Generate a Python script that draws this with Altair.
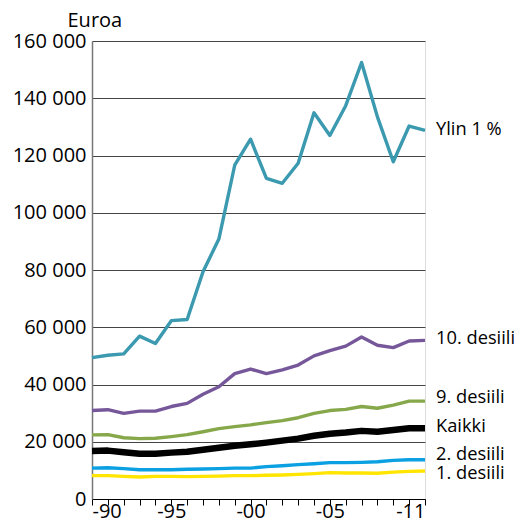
import altair as alt
import pandas as pd

years = list(range(1990, 2012))

top1 = [49400, 50200, 50700, 56900, 54300, 62300, 62700, 79400, 90800, 116600, 125700,
        112000, 110300, 117300, 134900, 127000, 137400, 152500, 133500, 117800, 130300, 128800]
d10 = [30900, 31200, 29900, 30700, 30700, 32300, 33400, 36600, 39200, 43800, 45400,
       43800, 45100, 46800, 50000, 51800, 53400, 56600, 53700, 52900, 55200, 55400]
d9 = [22400, 22500, 21400, 21100, 21200, 21800, 22500, 23500, 24600, 25300, 25900,
      26700, 27400, 28400, 29900, 30900, 31300, 32300, 31700, 32800, 34200, 34200]
kaikki = [16800, 16900, 16300, 15800, 15800, 16200, 16500, 17200, 17900, 18600, 19100,
          19700, 20400, 21100, 22100, 22800, 23200, 23800, 23500, 24100, 24700, 24700]
d2 = [10800, 10900, 10600, 10200, 10200, 10200, 10400, 10500, 10600, 10800, 10800,
      11300, 11600, 12000, 12300, 12700, 12700, 12800, 13000, 13500, 13700, 13700]
d1 = [8150, 8150, 7900, 7700, 7900, 7900, 7800, 7900, 8000, 8150, 8150,
      8300, 8400, 8600, 8850, 9200, 9100, 9100, 9000, 9400, 9650, 9800]

series_names = ["Ylin 1 %", "10. desiili", "9. desiili", "Kaikki", "2. desiili", "1. desiili"]
series_values = [top1, d10, d9, kaikki, d2, d1]
series_colors = ["#3b99b0", "#76589a", "#86a84a", "#000000", "#0aa0e2", "#ffe500"]
series_widths = [3.4, 3.4, 3.4, 6.5, 3.4, 3.4]
label_values = [128900, 55900, 35300, 25150, 15400, 8700]

x_label_years = [1990, 1995, 2000, 2005, 2011]
y_ticks = [0, 20000, 40000, 60000, 80000, 100000, 120000, 140000, 160000]

FONT = "Open Sans"
FS = 20
LFS = 18.3

xscale = alt.Scale(domain=[1990, 2011], nice=False, zero=False)
yscale = alt.Scale(domain=[0, 160000], nice=False)

x_cond = " || ".join("datum.value == %d" % v for v in x_label_years)
x_expr = "(" + x_cond + ") ? '-' + slice(toString(datum.value), 2) : ''"

x_axis = alt.Axis(values=years, format="d", labelExpr=x_expr, grid=False, title=None,
                  tickSize=6, tickColor="#000",
                  domainColor="#000",
                  labelFontSize=FS, labelFont=FONT, labelColor="#000",
                  labelPadding=-4, labelOverlap=False)
y_axis = alt.Axis(values=y_ticks, labelExpr="replace(format(datum.value, ','), ',', ' ')",
                  grid=True, gridColor="#444", gridOpacity=1,
                  ticks=False, domainColor="#777", domainWidth=1.5,
                  labelFontSize=FS, labelFont=FONT, labelColor="#000", labelPadding=6,
                  title="Euroa", titleAngle=0, titleAlign="left", titleBaseline="alphabetic",
                  titleX=-25, titleY=-15, titleFont=FONT, titleFontSize=FS,
                  titleFontWeight="normal", titleColor="#000")

enc_x = alt.X("year:Q", scale=xscale, axis=x_axis)
enc_y = alt.Y("value:Q", scale=yscale, axis=y_axis)

draw_order = [0, 1, 2, 4, 5, 3]  # thick Kaikki drawn last
layers = []
for i in draw_order:
    name, vals, col, w = series_names[i], series_values[i], series_colors[i], series_widths[i]
    sdf = pd.DataFrame({"year": years, "value": vals, "series": name})
    layers.append(
        alt.Chart(sdf).mark_line(color=col, strokeWidth=w, strokeJoin="round").encode(x=enc_x, y=enc_y)
    )

lab_df = pd.DataFrame({"series": series_names, "value": label_values,
                       "year": [2011] * len(series_names)})
labels = alt.Chart(lab_df).mark_text(align="left", baseline="middle", dx=11,
                                      font=FONT, fontSize=LFS, color="#000").encode(
    x=enc_x, y=enc_y, text="series:N",
)

chart = alt.layer(*layers, labels).properties(
    width=333, height=458,
    autosize=alt.AutoSizeParams(type="none"),
    padding={"left": 84, "top": 33, "right": 89, "bottom": 23},
).configure_view(stroke="#000", strokeWidth=1).configure(background="white")

chart.save("out.html", embed_options={"renderer": "svg", "actions": False})
